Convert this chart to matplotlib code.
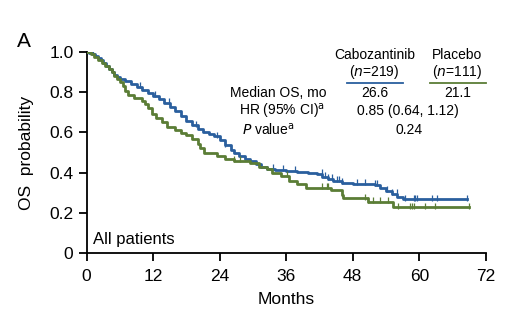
import numpy as np
import matplotlib
matplotlib.use("Agg")
import matplotlib.pyplot as plt

plt.rcParams['font.family'] = ['Liberation Sans', 'DejaVu Sans']

# Kaplan-Meier steps: (month, survival)
cabo_t = [0, 0.5, 1, 1.5, 2, 2.5, 3, 3.5, 4, 4.5, 5, 5.5, 6, 7, 8, 9, 10, 11, 12, 13,
          14, 15, 16, 17, 18, 19, 20, 21, 22, 23, 24, 25, 26, 26.6, 27.5, 28.5, 29.5,
          30.5, 31.5, 32.5, 34, 36, 38, 40, 41.5, 42.5, 43.5, 44.5, 46, 48, 52, 53,
          54, 55, 56, 57]
cabo_s = [1.0, 0.995, 0.99, 0.98, 0.97, 0.96, 0.945, 0.93, 0.915, 0.90, 0.885, 0.875,
          0.865, 0.855, 0.84, 0.825, 0.81, 0.795, 0.78, 0.765, 0.745, 0.725, 0.705, 0.68,
          0.655, 0.635, 0.615, 0.60, 0.59, 0.58, 0.56, 0.535, 0.51, 0.495, 0.48, 0.47,
          0.46, 0.445, 0.43, 0.42, 0.415, 0.41, 0.405, 0.40, 0.395, 0.38, 0.37, 0.36,
          0.35, 0.345, 0.34, 0.325, 0.31, 0.295, 0.28, 0.268]
cabo_end = 68.6
cabo_cens = [1.2, 9.7, 12.3, 14.8, 19.8, 23.5, 25.0, 33.6, 35.5, 37.6, 42.4, 43.0, 43.6,
             44.2, 45.1, 45.6, 46.0, 48.7, 50.2, 52.0, 52.3, 54.2, 55.0, 55.9, 57.5,
             59.0, 59.3, 59.6, 62.3, 63.2, 68.6]

plac_t = [0, 0.7, 1.3, 2, 2.7, 3.3, 4, 4.5, 5, 5.5, 6, 6.5, 7, 7.5, 8.5, 10, 10.5, 11,
          11.7, 12.5, 13.5, 14.5, 16, 17, 18, 19, 20, 20.5, 21.1, 23.5, 25, 26.5, 29.5,
          31, 32.5, 33.5, 35, 36.5, 38, 39.5, 44, 46, 46.3, 50.8, 55.3]
plac_s = [1.0, 0.99, 0.975, 0.96, 0.945, 0.93, 0.915, 0.90, 0.88, 0.865, 0.85, 0.83,
          0.805, 0.785, 0.77, 0.755, 0.74, 0.72, 0.69, 0.67, 0.65, 0.625, 0.61, 0.595,
          0.585, 0.565, 0.54, 0.52, 0.495, 0.48, 0.47, 0.46, 0.45, 0.43, 0.42, 0.40,
          0.385, 0.36, 0.345, 0.325, 0.315, 0.29, 0.273, 0.256, 0.228]
plac_end = 68.9
plac_cens = [26.5, 27.7, 36.2, 42.4, 43.3, 43.6, 50.2, 50.8, 51.7, 52.9, 54.4, 56.2,
             58.3, 58.7, 59.0, 61.1, 62.9, 68.9]

blue = '#2a5f9e'
green = '#5b7d36'

fig = plt.figure(figsize=(5.19, 3.23), dpi=100)
ax = fig.add_axes([0.167, 0.216, 0.769, 0.624])


def km(t, s, end, cens, color):
    tt = list(t) + [end]
    ss = list(s) + [s[-1]]
    ax.step(tt, ss, where='post', color=color, lw=2.0, zorder=3)
    idx = np.searchsorted(np.array(t), np.array(cens), side='right') - 1
    cy = np.array(s)[idx] + 0.008
    ax.plot(cens, cy, ls='none', marker='|', ms=5, mew=0.9, color=color, zorder=3)


km(cabo_t, cabo_s, cabo_end, cabo_cens, blue)
km(plac_t, plac_s, plac_end, plac_cens, green)

ax.set_xlim(0, 72)
ax.set_ylim(0, 1.0)
ax.set_xticks(range(0, 73, 12))
ax.set_yticks([0, 0.2, 0.4, 0.6, 0.8, 1.0])
ax.set_yticklabels(['0', '0.2', '0.4', '0.6', '0.8', '1.0'])
for sp in ['top', 'right']:
    ax.spines[sp].set_visible(False)
for sp in ['left', 'bottom']:
    ax.spines[sp].set_linewidth(1.3)
ax.spines['left'].set_bounds(0, 1.0)
ax.tick_params(axis='both', direction='out', length=6, width=1.3, labelsize=12.5)
ax.tick_params(axis='x', pad=5)
ax.set_xlabel('Months', fontsize=12.5, labelpad=6)
ax.set_ylabel('OS  probability', fontsize=12.5, labelpad=11)

fig.text(0.033, 0.87, 'A', fontsize=15, ha='left', va='center')
ax.text(1.2, 0.07, 'All patients', fontsize=12, ha='left', va='center')

fs = 10
ax.text(51.9, 0.984, 'Cabozantinib', fontsize=fs, ha='center', va='center')
ax.text(51.9, 0.90, '($n$=219)', fontsize=fs, ha='center', va='center')
ax.text(66.8, 0.984, 'Placebo', fontsize=fs, ha='center', va='center')
ax.text(66.8, 0.90, '($n$=111)', fontsize=fs, ha='center', va='center')
ax.plot([46.9, 57.0], [0.846, 0.846], color=blue, lw=1.3, clip_on=False)
ax.plot([61.95, 72.0], [0.846, 0.846], color=green, lw=1.3, clip_on=False)

ax.text(34.5, 0.794, 'Median OS, mo', fontsize=fs, ha='center', va='center')
ax.text(51.9, 0.794, '26.6', fontsize=fs, ha='center', va='center')
ax.text(67.0, 0.794, '21.1', fontsize=fs, ha='center', va='center')
ax.text(35.2, 0.705, 'HR (95% CI)$^{\\mathrm{a}}$', fontsize=fs, ha='center', va='center')
ax.text(58.0, 0.705, '0.85 (0.64, 1.12)', fontsize=fs, ha='center', va='center')
ax.text(32.8, 0.612, '$P$ value$^{\\mathrm{a}}$', fontsize=fs, ha='center', va='center')
ax.text(58.2, 0.612, '0.24', fontsize=fs, ha='center', va='center')

fig.savefig('out.png', dpi=100)
